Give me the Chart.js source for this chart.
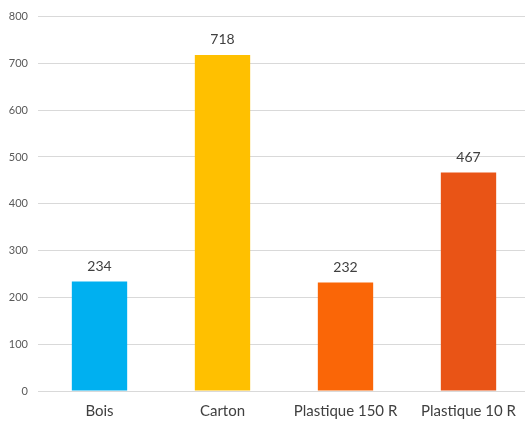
<!DOCTYPE html>
<html lang="fr">
<head>
  <meta charset="UTF-8">
  <title>Bar chart</title>
  <style>
    html, body { margin: 0; padding: 0; background: #fff; overflow: hidden; }
    #wrap { width: 525px; height: 422px; overflow: hidden; }
  </style>
</head>
<body>
  <!-- the plot area runs a few pixels past the right edge, as in the original -->
  <div id="wrap"><canvas id="chart" width="530" height="422"></canvas></div>

  <script src="https://cdn.jsdelivr.net/npm/chart.js"></script>
  <script>
    // Data
    const categories = ['Bois', 'Carton', 'Plastique 150 R', 'Plastique 10 R'];
    const values = [234, 718, 232, 467];
    const barColors = ['#00B0F0', '#FFC000', '#FA6607', '#E95416'];
    const yTicks = [0, 100, 200, 300, 400, 500, 600, 700, 800];

    const fontFamily = 'Lato, "Open Sans", sans-serif';

    // Value labels above each bar
    const valueLabels = {
      id: 'valueLabels',
      afterDatasetsDraw(chart) {
        const ctx = chart.ctx;
        const meta = chart.getDatasetMeta(0);
        ctx.save();
        ctx.font = '14px ' + fontFamily;
        ctx.fillStyle = '#404040';
        ctx.textAlign = 'center';
        ctx.textBaseline = 'middle';
        meta.data.forEach((bar, i) => {
          ctx.fillText(values[i], bar.x, bar.y - 15);
        });
        ctx.restore();
      }
    };

    new Chart(document.getElementById('chart'), {
      type: 'bar',
      data: {
        labels: categories,
        datasets: [{
          data: values,
          backgroundColor: barColors,
          borderWidth: 0,
          categoryPercentage: 1,
          barPercentage: 0.45
        }]
      },
      options: {
        responsive: false,
        animation: false,
        layout: { padding: { top: 8, right: 0, left: 0, bottom: 0 } },
        plugins: {
          legend: { display: false },
          tooltip: { enabled: false }
        },
        scales: {
          x: {
            grid: { display: false, drawTicks: false },
            border: { display: false },
            ticks: {
              color: '#404040',
              font: { family: fontFamily, size: 15 },
              padding: 11,
              maxRotation: 0,
              autoSkip: false
            },
            afterFit: s => { s.height = 31; }
          },
          y: {
            min: 0,
            max: 800,
            afterBuildTicks: s => { s.ticks = yTicks.map(v => ({ value: v })); },
            grid: { color: '#D9D9D9', drawTicks: false },
            border: { display: false },
            ticks: {
              color: '#595959',
              font: { family: fontFamily, size: 11 },
              padding: 10
            },
            afterFit: s => { s.width = 38; }
          }
        }
      },
      plugins: [valueLabels]
    });
  </script>
</body>
</html>
